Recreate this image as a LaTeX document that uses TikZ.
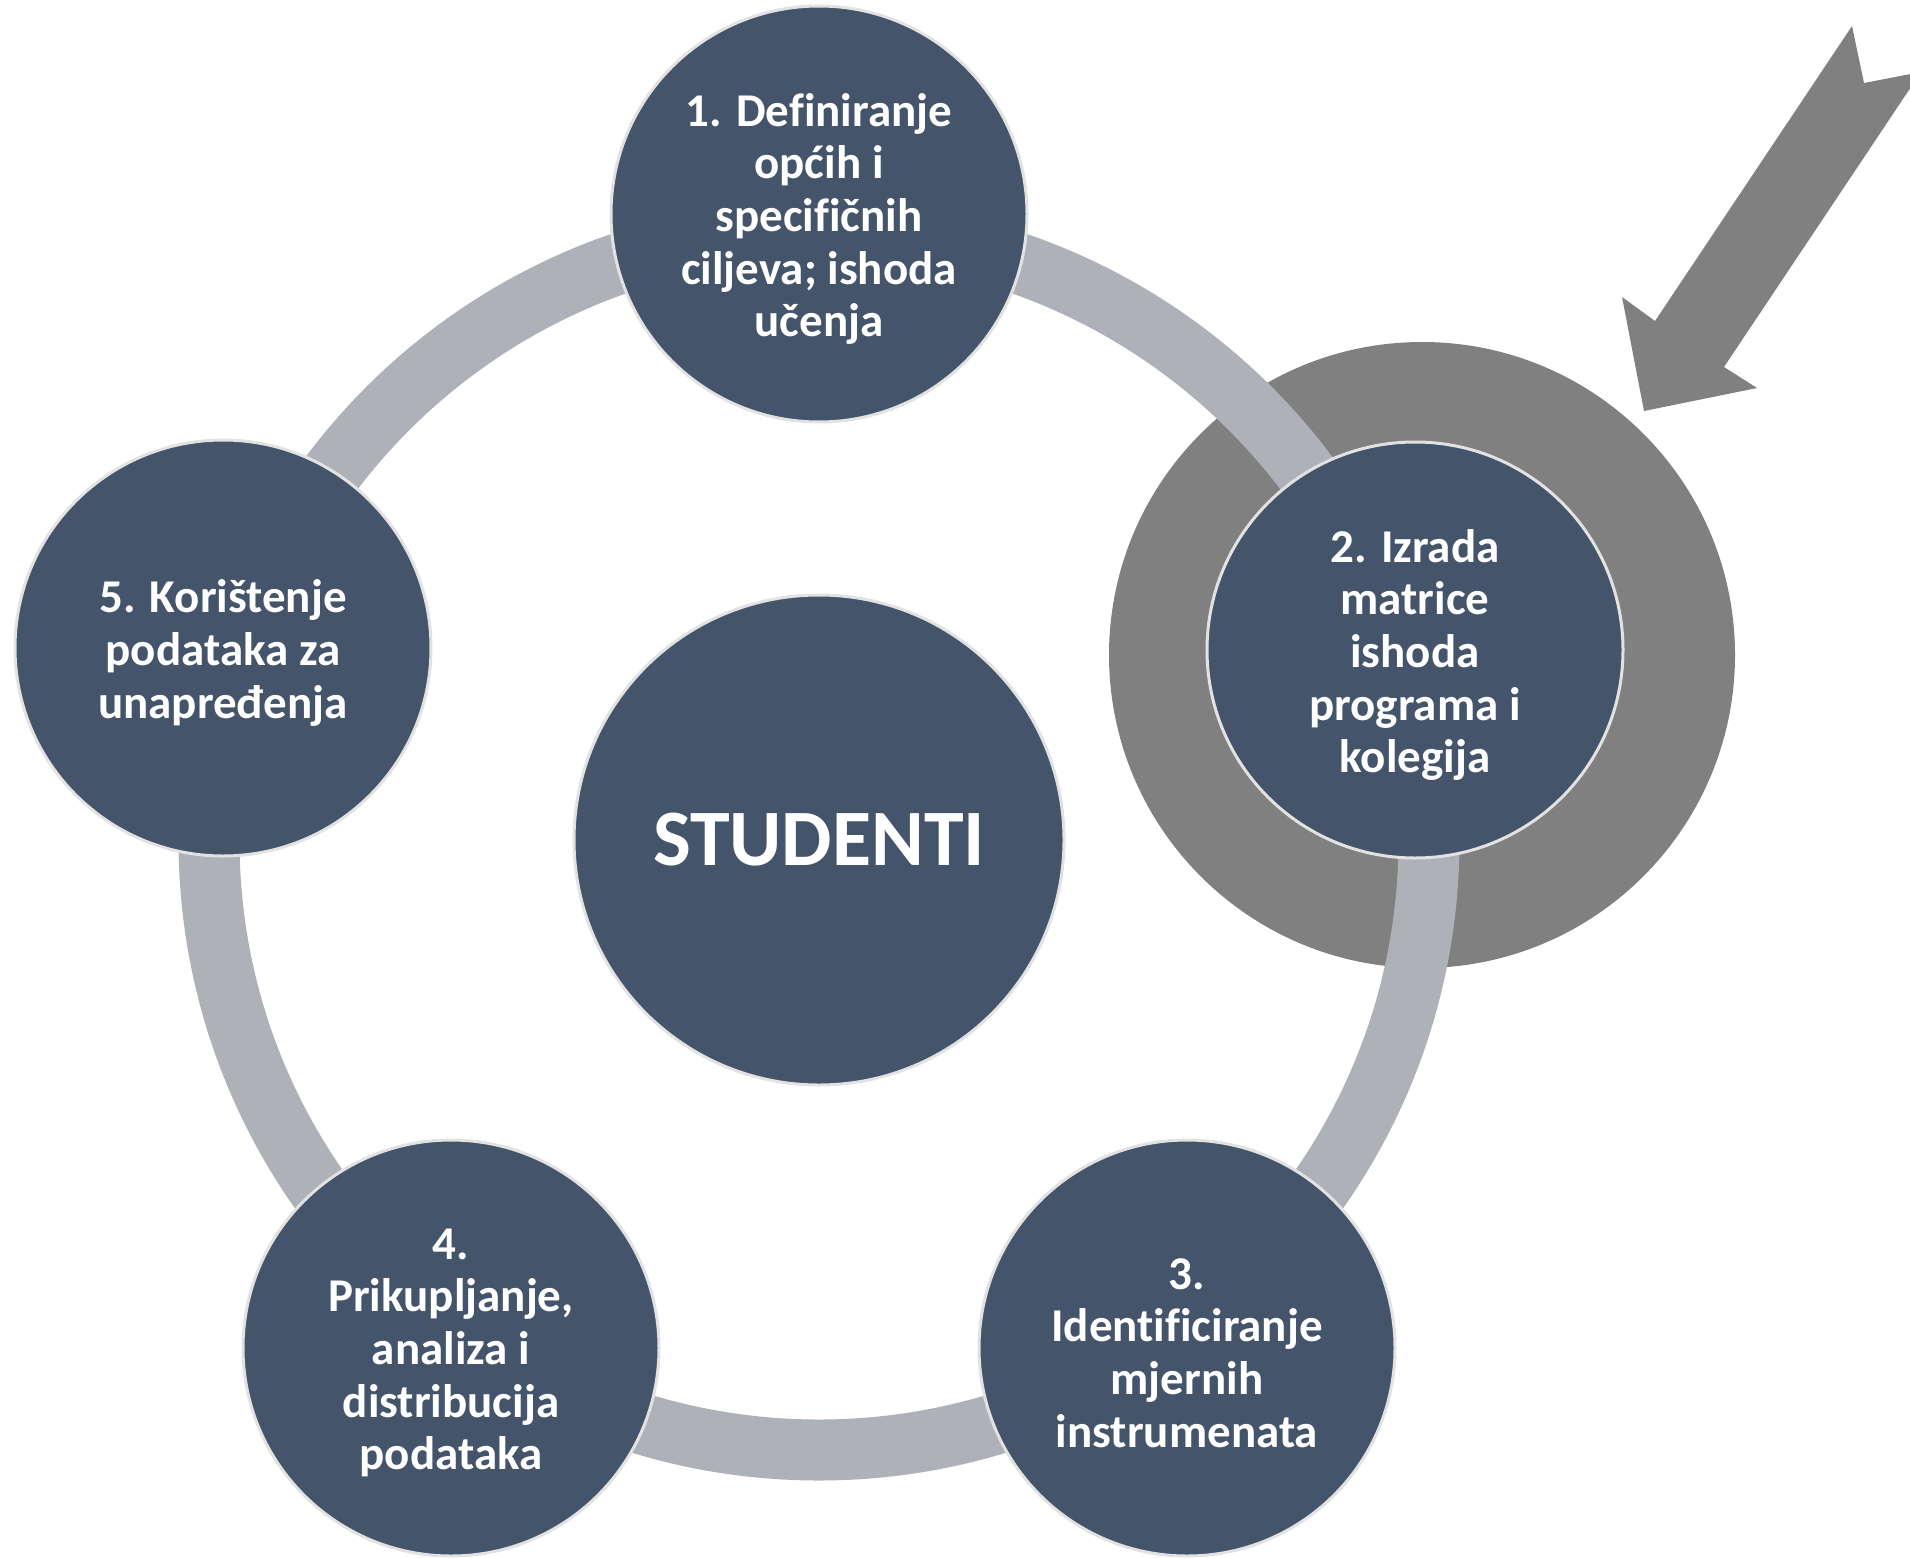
\documentclass[tikz,border=0pt]{standalone}
\usepackage{fontspec}
\setmainfont{Carlito}[Ligatures=NoCommon]
\definecolor{nodefill}{HTML}{44546A}
\definecolor{ringgray}{HTML}{AEB1B8}
\definecolor{discgray}{HTML}{808080}
\definecolor{edgegray}{HTML}{E2E2E2}
\begin{document}
\begin{tikzpicture}[x=1pt,y=-1pt,
  stage/.style={circle, fill=nodefill, draw=edgegray, line width=3pt,
    minimum size=416pt, inner sep=0pt},
  stagetext/.style={text=white, align=center, inner sep=0pt, yshift=-5pt,
    font=\bfseries\fontsize{47}{52.7}\selectfont},
  hub/.style={stage, minimum size=490pt, text=white, font=\bfseries\fontsize{80}{96}\selectfont},
  cycle ring/.style={draw=ringgray, line width=61pt},
  focus disc/.style={fill=discgray},
  block arrow/.style={fill=discgray}]
\useasboundingbox (0,0) rectangle (1910,1557);
\coordinate (C) at (819,840);
\coordinate (D) at (1422,655);
\fill[focus disc] (D) circle (313);
\draw[cycle ring] (C) circle (610);
\node[stage] (s1) at (819,214) {};
\node[stage] (s2) at (1415,650) {};
\node[stage] (s3) at (1187,1348) {};
\node[stage] (s4) at (451,1348) {};
\node[stage] (s5) at (223,648) {};
\node[stagetext] (t1) at (s1) {1. Definiranje\\općih i\\specifičnih\\ciljeva; ishoda\\učenja};
\node[stagetext] (t2) at (s2) {2. Izrada\\matrice\\ishoda\\programa i\\kolegija};
\node[stagetext] (t3) at (s3) {3.\\Identificiranje\\mjernih\\instrumenata};
\node[stagetext] (t4) at (s4) {4.\\Prikupljanje,\\analiza i\\distribucija\\podataka};
\node[stagetext] (t5) at (s5) {5. Korištenje\\podataka za\\unapređenja};
\node[hub] (st) at (C) {STUDENTI};
\coordinate (tip) at (1644,411);
\fill[block arrow] (tip) -- (1757,388) -- (1724,367) -- (1921,72) -- (1864,83)
  -- (1852,26) -- (1655,321) -- (1622,297) -- cycle;
\end{tikzpicture}
\end{document}
